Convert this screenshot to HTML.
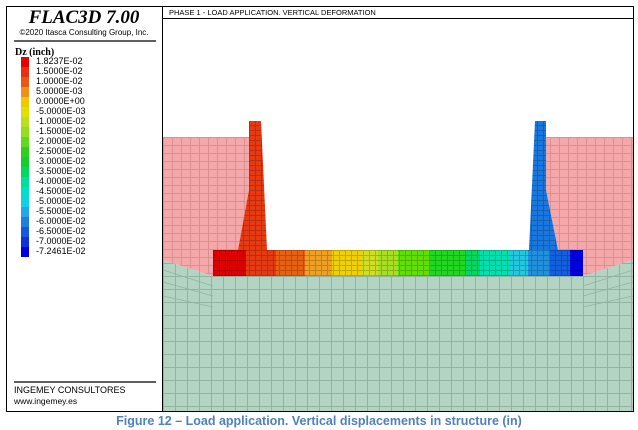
<!DOCTYPE html>
<html><head><meta charset="utf-8"><style>
body{margin:0;background:#fff;width:638px;height:430px;overflow:hidden}
svg{display:block}
</style></head><body>
<svg width="638" height="430" viewBox="0 0 638 430" xmlns="http://www.w3.org/2000/svg" font-family="Liberation Sans, sans-serif">
<defs>
<pattern id="gg" x="163" y="276" width="12" height="13" patternUnits="userSpaceOnUse"><path d="M0 0.5H12M0.5 0V13" stroke="#92b3a2" stroke-width="1" fill="none"/></pattern>
<pattern id="pg" x="163" y="137" width="9" height="8" patternUnits="userSpaceOnUse"><path d="M0 0.5H9M0.5 0V8" stroke="#d89092" stroke-width="1" fill="none"/></pattern>
<pattern id="sg" x="213" y="250" width="6" height="5" patternUnits="userSpaceOnUse"><path d="M0 0.5H6M0.5 0V5" stroke="#000" stroke-opacity="0.2" stroke-width="1" fill="none"/></pattern>
</defs>
<rect x="6.5" y="6.5" width="156" height="405" fill="#fff" stroke="#000"/>
<text x="84" y="23" text-anchor="middle" font-family="Liberation Serif, serif" font-weight="bold" font-style="italic" font-size="19">FLAC3D 7.00</text>
<text x="84" y="35" text-anchor="middle" font-size="8">©2020 Itasca Consulting Group, Inc.</text>
<line x1="14" y1="41" x2="156" y2="41" stroke="#000" stroke-width="1.2"/>
<text x="15" y="55" font-family="Liberation Serif, serif" font-weight="bold" font-size="10">Dz (inch)</text>
<g>
<rect x="21" y="57" width="8" height="10" fill="#e80000"/>
<rect x="21" y="67" width="8" height="10" fill="#e83010"/>
<rect x="21" y="77" width="8" height="10" fill="#e85810"/>
<rect x="21" y="87" width="8" height="10" fill="#f09018"/>
<rect x="21" y="97" width="8" height="10" fill="#f0c800"/>
<rect x="21" y="107" width="8" height="10" fill="#e0e000"/>
<rect x="21" y="117" width="8" height="10" fill="#b8e020"/>
<rect x="21" y="127" width="8" height="10" fill="#90e020"/>
<rect x="21" y="137" width="8" height="10" fill="#60d820"/>
<rect x="21" y="147" width="8" height="10" fill="#30d020"/>
<rect x="21" y="157" width="8" height="10" fill="#10d030"/>
<rect x="21" y="167" width="8" height="10" fill="#00d860"/>
<rect x="21" y="177" width="8" height="10" fill="#00e098"/>
<rect x="21" y="187" width="8" height="10" fill="#00e0c8"/>
<rect x="21" y="197" width="8" height="10" fill="#10d0e8"/>
<rect x="21" y="207" width="8" height="10" fill="#20a8e8"/>
<rect x="21" y="217" width="8" height="10" fill="#2080e0"/>
<rect x="21" y="227" width="8" height="10" fill="#1858e0"/>
<rect x="21" y="237" width="8" height="10" fill="#1030e0"/>
<rect x="21" y="247" width="8" height="10" fill="#0000e0"/>
</g>
<g font-size="9" fill="#000">
<text x="36" y="64">1.8237E-02</text>
<text x="36" y="74">1.5000E-02</text>
<text x="36" y="84">1.0000E-02</text>
<text x="36" y="94">5.0000E-03</text>
<text x="36" y="104">0.0000E+00</text>
<text x="36" y="114">-5.0000E-03</text>
<text x="36" y="124">-1.0000E-02</text>
<text x="36" y="134">-1.5000E-02</text>
<text x="36" y="144">-2.0000E-02</text>
<text x="36" y="154">-2.5000E-02</text>
<text x="36" y="164">-3.0000E-02</text>
<text x="36" y="174">-3.5000E-02</text>
<text x="36" y="184">-4.0000E-02</text>
<text x="36" y="194">-4.5000E-02</text>
<text x="36" y="204">-5.0000E-02</text>
<text x="36" y="214">-5.5000E-02</text>
<text x="36" y="224">-6.0000E-02</text>
<text x="36" y="234">-6.5000E-02</text>
<text x="36" y="244">-7.0000E-02</text>
<text x="36" y="254">-7.2461E-02</text>
</g>
<line x1="14" y1="382" x2="156" y2="382" stroke="#000" stroke-width="1.2"/>
<text x="14" y="393" font-size="9">INGEMEY CONSULTORES</text>
<text x="14" y="404" font-size="8.5">www.ingemey.es</text>
<rect x="162.5" y="6.5" width="471" height="405" fill="#fff" stroke="#000"/>
<line x1="163" y1="18.5" x2="633" y2="18.5" stroke="#000"/>
<text x="169" y="15" font-size="7.5">PHASE 1 - LOAD APPLICATION. VERTICAL DEFORMATION</text>
<path d="M163 137H249V190L238 250H213V276L163 260Z" fill="#f4a8aa"/>
<path d="M163 137H249V190L238 250H213V276L163 260Z" fill="url(#pg)"/>
<path d="M546 137H633V260L583 276V250H558L546 190Z" fill="#f4a8aa"/>
<path d="M546 137H633V260L583 276V250H558L546 190Z" fill="url(#pg)"/>
<path d="M163 260L213 276H583L633 260V411H163Z" fill="#b3d4c2"/>
<path d="M163 260L213 276H583L633 260V411H163Z" fill="url(#gg)"/>
<g stroke="#92b3a2" stroke-width="0.8" fill="none">
<path d="M163 270L213 286M163 282L213 296M163 296L213 307M633 270L583 286M633 282L583 296M633 296L583 307"/>
</g>
<g>
<rect x="213" y="250" width="33" height="26" fill="#e00000"/>
<rect x="246" y="250" width="30" height="26" fill="#e83a10"/>
<rect x="276" y="250" width="29" height="26" fill="#e86010"/>
<rect x="305" y="250" width="27" height="26" fill="#f0a020"/>
<rect x="332" y="250" width="30" height="26" fill="#f0d000"/>
<rect x="362" y="250" width="16" height="26" fill="#d0e020"/>
<rect x="378" y="250" width="20" height="26" fill="#a8e020"/>
<rect x="398" y="250" width="32" height="26" fill="#60e000"/>
<rect x="430" y="250" width="36" height="26" fill="#20d820"/>
<rect x="466" y="250" width="14" height="26" fill="#00d860"/>
<rect x="480" y="250" width="30" height="26" fill="#00e0b0"/>
<rect x="510" y="250" width="18" height="26" fill="#20c8e0"/>
<rect x="528" y="250" width="22" height="26" fill="#2090e0"/>
<rect x="550" y="250" width="20" height="26" fill="#1060e0"/>
<rect x="570" y="250" width="13" height="26" fill="#0000e0"/>
</g>
<path d="M249 121H261L267 250H238L249 190Z" fill="#e83a10"/>
<path d="M535 121H546V190L558 250H529Z" fill="#1878e0"/>
<path d="M249 121H261L267 250H238L249 190Z" fill="url(#sg)"/>
<path d="M535 121H546V190L558 250H529Z" fill="url(#sg)"/>
<rect x="213" y="250" width="370" height="26" fill="url(#sg)"/>
<text x="319" y="425" text-anchor="middle" font-size="12.5" font-weight="bold" fill="#4f81bd">Figure 12 – Load application. Vertical displacements in structure (in)</text>
</svg>
</body></html>
